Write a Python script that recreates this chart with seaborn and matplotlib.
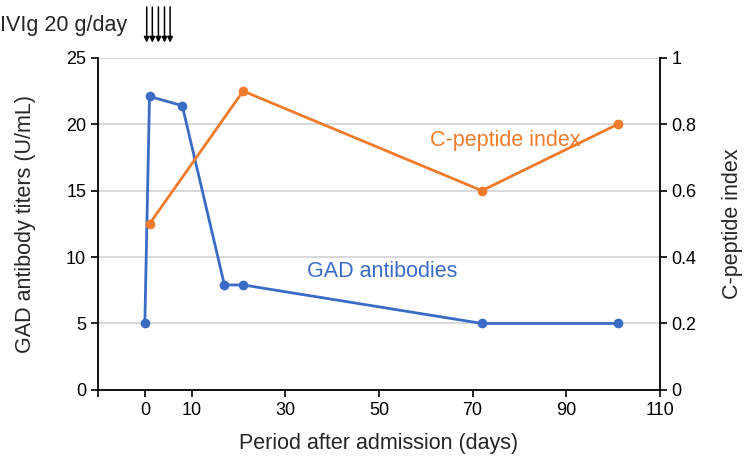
import pandas as pd
import seaborn as sns
import matplotlib.pyplot as plt
from matplotlib.transforms import blended_transform_factory

sns.set_style("white")
plt.rcParams["font.family"] = ["Liberation Sans", "DejaVu Sans"]

gad_days = [0, 1, 8, 17, 21, 72, 101]
gad_titers = [5, 22.1, 21.4, 7.9, 7.9, 5, 5]
cpep_days = [1, 21, 72, 101]
cpep_index = [0.5, 0.9, 0.6, 0.8]
ivig_days = [0.4, 1.6, 2.9, 4.2, 5.4]
x_ticks = [-10, 0, 10, 30, 50, 70, 90, 110]
x_labels = ["", "0", "10", "30", "50", "70", "90", "110"]

blue = "#3A6CC6"
orange = "#F07B2A"

gad = pd.DataFrame({"day": gad_days, "titer": gad_titers})
cpep = pd.DataFrame({"day": cpep_days, "index": cpep_index})

fig = plt.figure(figsize=(7.5, 4.63), dpi=100)
ax = fig.add_axes([0.1307, 0.158, 0.749, 0.717])
ax2 = ax.twinx()

sns.lineplot(data=gad, x="day", y="titer", ax=ax, color=blue, marker="o",
             markersize=7, markeredgewidth=0, linewidth=2, sort=False, zorder=3)
sns.lineplot(data=cpep, x="day", y="index", ax=ax2, color=orange, marker="o",
             markersize=7, markeredgewidth=0, linewidth=2, sort=False, zorder=3)

ax.set_xlim(-10, 110)
ax.set_ylim(0, 25)
ax2.set_ylim(0, 1)
ax.set_xticks(x_ticks)
ax.set_xticklabels(x_labels)
ax.set_yticks([0, 5, 10, 15, 20, 25])
ax2.set_yticks([0, 0.2, 0.4, 0.6, 0.8, 1])
ax2.set_yticklabels(["0", "0.2", "0.4", "0.6", "0.8", "1"])

ax.yaxis.grid(True, color="#D9D9D9", linewidth=1.5)
ax.set_axisbelow(True)
ax.xaxis.grid(False)
ax2.grid(False)

for a in (ax, ax2):
    a.spines["top"].set_visible(False)
    for s in ("left", "right", "bottom"):
        a.spines[s].set_color("black")
        a.spines[s].set_linewidth(1.3)
    a.tick_params(axis="both", direction="out", length=5, width=1.2,
                  color="black", labelsize=13, labelcolor="black")
ax.spines["right"].set_visible(False)
ax2.spines["left"].set_visible(False)
ax2.spines["bottom"].set_visible(False)
ax.tick_params(axis="y", left=True)
ax.tick_params(axis="x", bottom=True)
ax2.tick_params(axis="y", right=True)

ax.set_xlabel("Period after admission (days)", fontsize=15.5, labelpad=10)
ax.set_ylabel("GAD antibody titers (U/mL)", fontsize=15.5, labelpad=22)
ax2.set_ylabel("C-peptide index", fontsize=15.5, labelpad=18)

ax.text(77, 18.8, "C-peptide index", color=orange, fontsize=15.5,
        ha="center", va="center")
ax.text(50.8, 8.9, "GAD antibodies", color=blue, fontsize=15.5,
        ha="center", va="center")

fig.text(0.0, 0.946, "IVIg 20 g/day", fontsize=15.5, ha="left", va="center")
trans = blended_transform_factory(ax.transData, fig.transFigure)
for d in ivig_days:
    ax.annotate("", xy=(d, 0.908), xytext=(d, 0.985), xycoords=trans,
                textcoords=trans, annotation_clip=False,
                arrowprops=dict(arrowstyle="-|>", color="black", lw=1.1,
                                mutation_scale=8, shrinkA=0, shrinkB=0))

fig.savefig("out.png", dpi=100)
